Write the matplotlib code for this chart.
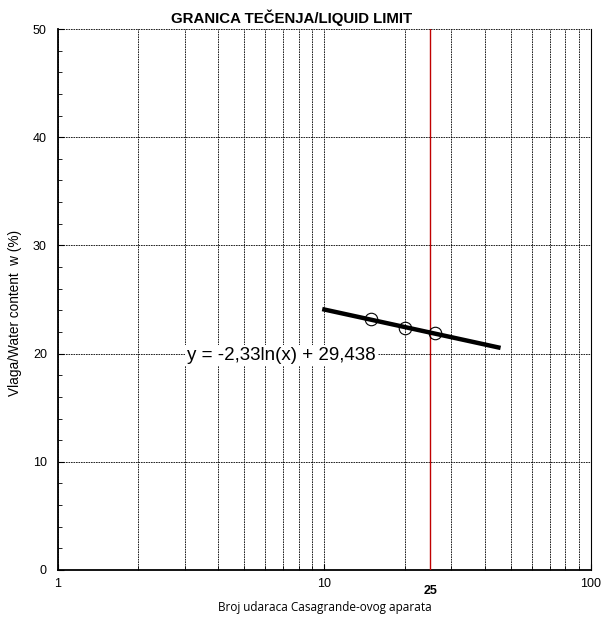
import numpy as np
import matplotlib.pyplot as plt
from matplotlib.ticker import FixedLocator, NullFormatter

# measured points (blows, water content %)
blows = [15, 20, 26]
water = [23.2, 22.4, 21.9]

# trend line y = a*ln(x) + b
coef_a = -2.33
coef_b = 29.438
trend_x = [10, 45]

x_ticks = [1, 10, 100]
x_minor = [2, 3, 4, 5, 6, 7, 8, 9, 20, 30, 40, 50, 60, 70, 80, 90]
y_ticks = [0, 10, 20, 30, 40, 50]
ll_blows = 25

fig = plt.figure(figsize=(6.01, 6.25), dpi=100)
ax = fig.add_axes([0.0965, 0.088, 0.8865, 0.8656])

ax.set_xscale('log')
ax.set_xlim(1, 100)
ax.set_ylim(0, 50)

ax.xaxis.set_major_locator(FixedLocator(x_ticks))
ax.xaxis.set_minor_locator(FixedLocator(x_minor))
ax.xaxis.set_minor_formatter(NullFormatter())
ax.set_xticklabels([str(v) for v in x_ticks])
ax.yaxis.set_major_locator(FixedLocator(y_ticks))
ax.yaxis.set_minor_locator(FixedLocator(np.arange(0, 51, 2)))

ax.tick_params(axis='both', which='major', labelsize=9, length=4, direction='in')
ax.tick_params(axis='x', which='major', pad=6)
ax.tick_params(axis='y', which='major', pad=8)
ax.tick_params(axis='both', which='minor', direction='in', length=3)

gl = dict(color='black', linestyle=(0, (2, 1)), linewidth=0.6)
ax.grid(True, which='major', axis='both', **gl)
ax.grid(True, which='minor', axis='x', **gl)

ax.spines['left'].set_linewidth(1.3)
ax.spines['bottom'].set_linewidth(1.3)
ax.spines['top'].set_visible(False)
ax.spines['right'].set_linewidth(0.8)

ax.axvline(ll_blows, color='#c00000', linewidth=1.0, zorder=3)

tx = np.array(trend_x, dtype=float)
ax.plot(tx, coef_a * np.log(tx) + coef_b, color='black', linewidth=3.2, zorder=4)
ax.plot(blows, water, linestyle='none', marker='o', markersize=9,
        markerfacecolor='none', markeredgecolor='black', markeredgewidth=0.8, zorder=5)

ax.text(3.05, 19.8, 'y = -2,33ln(x) + 29,438', fontsize=13.5, family='Liberation Sans',
        ha='left', va='center', zorder=6,
        bbox=dict(facecolor='white', edgecolor='none', pad=1.5))

ax.text(ll_blows, -1.95, '25', fontsize=9, fontweight='bold', family='Liberation Sans',
        ha='center', va='center')

fig.text(292 / 601, 1 - 18 / 625, 'GRANICA TEČENJA/LIQUID LIMIT', fontsize=10.8,
         fontweight='bold', family='Liberation Sans', ha='center', va='center')
fig.text(325 / 601, 1 - 608 / 625, 'Broj udaraca Casagrande-ovog aparata', fontsize=8.5,
         family='Open Sans', ha='center', va='center')
ax.set_ylabel('Vlaga/Water content  w (%)', fontsize=9.8, family='Liberation Sans')
ax.yaxis.set_label_coords(-0.068, 0.475)

for lbl in ax.get_xticklabels() + ax.get_yticklabels():
    lbl.set_family('Liberation Sans')

plt.savefig('out.png', dpi=100)
